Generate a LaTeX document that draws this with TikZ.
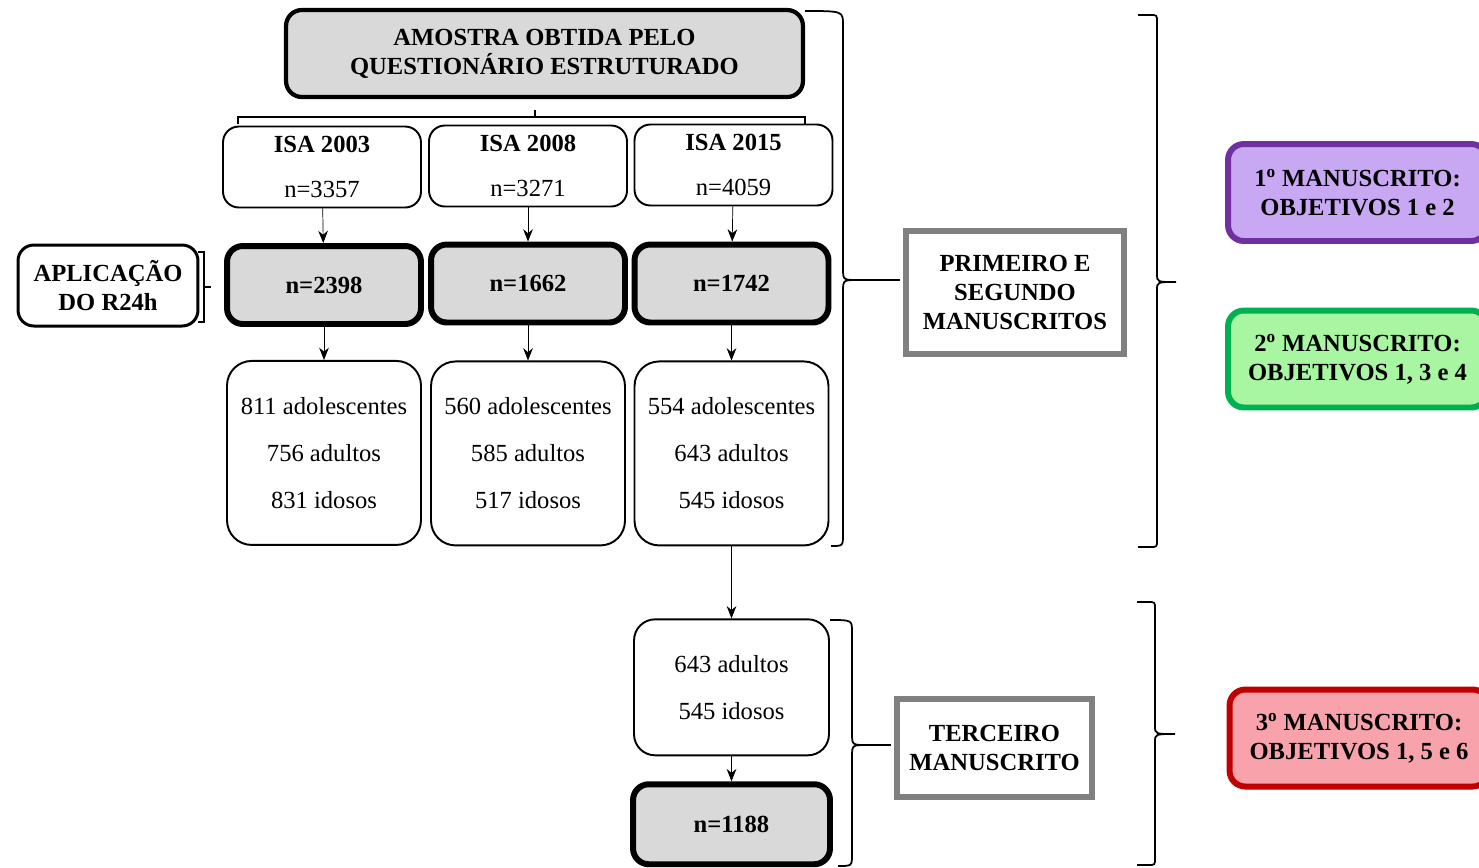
\documentclass[tikz,border=0pt]{standalone}
\usepackage{fontspec}
\setmainfont{Liberation Serif}
\usetikzlibrary{positioning,arrows.meta}

\definecolor{boxgray}{HTML}{D9D9D9}
\definecolor{framegray}{HTML}{808080}
\definecolor{purpleline}{HTML}{7030A0}
\definecolor{purplefill}{HTML}{C8A8F2}
\definecolor{greenline}{HTML}{00B050}
\definecolor{greenfill}{HTML}{A8F5A2}
\definecolor{redline}{HTML}{C00000}
\definecolor{redfill}{HTML}{F8A2AC}

\begin{document}
\begin{tikzpicture}[%
    x=0.02cm,
    y=-0.02cm,
    ->,
    >={Stealth[length=7pt,width=5.5pt]},
    node distance=0.7cm,
    font=\fontsize{14}{16.5}\selectfont,
    isa/.style={%
      rectangle,
      rounded corners=9pt,
      draw,
      line width=1.1pt,
      minimum width=3.96cm,
      minimum height=1.62cm,
      align=center,
      font=\fontsize{14}{25.6}\selectfont
    },
    total/.style={%
      rectangle,
      rounded corners=9pt,
      draw,
      fill=boxgray,
      line width=3.4pt,
      minimum width=3.88cm,
      minimum height=1.56cm,
      font=\fontsize{14}{16.5}\selectfont\bfseries
    },
    group/.style={%
      rectangle,
      rounded corners=14pt,
      draw,
      line width=1.1pt,
      minimum width=3.88cm,
      minimum height=3.68cm,
      align=center,
      font=\fontsize{14}{26.7}\selectfont
    },
    label/.style={%
      rectangle,
      draw=framegray,
      line width=3.4pt,
      align=center,
      font=\fontsize{14}{16.5}\selectfont\bfseries
    },
    goal/.style={%
      rectangle,
      rounded corners=9pt,
      line width=3.4pt,
      minimum width=5.18cm,
      minimum height=1.94cm,
      align=center,
      font=\fontsize{14}{16.5}\selectfont\bfseries
    },
    brace/.style={-, line width=1pt}
  ]
    \clip (0,0) rectangle (1479,867);

    % amostra
    \node[total, line width=2.4pt, minimum width=10.34cm, minimum height=1.74cm, align=center] (0) at (544.5,53.5)
      {AMOSTRA OBTIDA PELO\\QUESTIONÁRIO ESTRUTURADO};
    \draw[-, line width=0.9pt] (238,124) -- (238,117) -- (805,117) -- (805,124)
      (535,117) -- (535,110);

    % inqueritos
    \node[isa] (1) at (322,167) {\textbf{ISA 2003}\\n=3357};
    \node[isa] (2) at (528,166) {\textbf{ISA 2008}\\n=3271};
    \node[isa] (3) at (733.5,165) {\textbf{ISA 2015}\\n=4059};

    \node[total] (4) at (324,285) {n=2398};
    \node[total] (5) at (528,283.5) {n=1662};
    \node[total] (6) at (731.5,283.5) {n=1742};

    \node[group] (7) [below=0.66cm of 4] {811 adolescentes\\756 adultos\\831 idosos};
    \node[group] (8) [below=of 5] {560 adolescentes\\585 adultos\\517 idosos};
    \node[group] (9) [below=of 6] {554 adolescentes\\643 adultos\\545 idosos};

    \node[rectangle, rounded corners=9pt, draw, line width=1.7pt, minimum width=3.6cm, minimum height=1.62cm,
      align=center, font=\fontsize{14}{16.5}\selectfont\bfseries] (10) at (108,285.5) {APLICAÇÃO\\DO R24h};
    \draw[-, line width=0.8pt] (198,252) -- (204,252) -- (204,322) -- (198,322)
      (204,287) -- (211,287);

    \node[label, minimum width=4.36cm, minimum height=2.46cm] (11) at (1015,292.5)
      {PRIMEIRO E\\SEGUNDO\\MANUSCRITOS};

    \node[group, rounded corners=12pt, minimum width=3.9cm, minimum height=2.72cm] (15)
      [below=1.44cm of 9] {643 adultos\\545 idosos};
    \node[total, minimum width=3.94cm, minimum height=1.6cm] (16) [below=0.5cm of 15] {n=1188};
    \node[label, minimum width=3.9cm, minimum height=1.96cm] (17) at (994.5,748)
      {TERCEIRO\\MANUSCRITO};

    % manuscritos
    \node[goal, draw=purpleline, fill=purplefill] (12) at (1357.5,192.5)
      {1\textsuperscript{o} MANUSCRITO:\\OBJETIVOS 1 e 2};
    \node[goal, draw=greenline, fill=greenfill] (13) at (1357.5,359)
      {2\textsuperscript{o} MANUSCRITO:\\OBJETIVOS 1, 3 e 4};
    \node[goal, draw=redline, fill=redfill] (14) at (1359,738)
      {3\textsuperscript{o} MANUSCRITO:\\OBJETIVOS 1, 5 e 6};

    \path (1) edge[thin] (4)
          (2) edge[thin] (5)
          (3) edge[thin] (6)
          (4) edge[thin] (7)
          (5) edge[thin] (8)
          (6) edge[thin] (9)
          (9) edge[thin] (15)
          (15) edge[thin] (16);

    % chaves
    \coordinate (tipA) at (858,280);
    \coordinate (tipB) at (867,745);
    \draw[brace] (805,11) .. controls (843,11) .. (843,25) -- (843,268)
      .. controls (843,280) .. (tipA) .. controls (843,280) .. (843,292)
      -- (843,534) .. controls (843,546) .. (831,546);
    \draw[brace] (830,620) .. controls (852,620) .. (852,632) -- (852,733)
      .. controls (852,745) .. (tipB) .. controls (852,745) .. (852,757)
      -- (852,854) .. controls (852,866) .. (838,866);
    \path (tipA) edge[brace, shorten >=1.7pt] (tipA -| 11.west)
          (tipB) edge[brace, shorten >=1.7pt] (tipB -| 17.west);

    \draw[brace] (1138,15) -- (1150,15) .. controls (1157,15) .. (1157,22) -- (1157,274)
      .. controls (1157,282) .. (1176,282) .. controls (1157,282) .. (1157,290)
      -- (1157,540) .. controls (1157,547) .. (1150,547) -- (1138,547);
    \draw[brace] (1137,602) -- (1148,602) .. controls (1155,602) .. (1155,609) -- (1155,726)
      .. controls (1155,734) .. (1175,734) .. controls (1155,734) .. (1155,742)
      -- (1155,858) .. controls (1155,865) .. (1148,865) -- (1137,865);
\end{tikzpicture}
\end{document}
